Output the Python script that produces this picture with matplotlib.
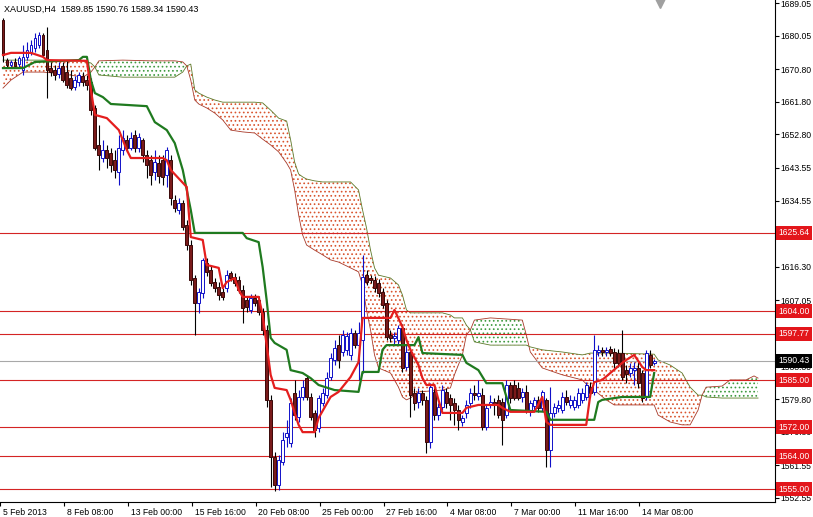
import matplotlib
matplotlib.use("Agg")
import matplotlib.pyplot as plt
import matplotlib.transforms as mtrans
import numpy as np

#-------------------------------------------------------------------------------
# XAUUSD H4 candles, one entry per bar (bar index = position on the chart)

opens = [
  1684.4,1673.3,1672.0,1672.8,1672.2,1670.6,1674.2,1675.5,1676.6,1677.5,
  1680.2,1676.1,1671.1,1670.6,1669.5,1671.7,1670.0,1668.4,1665.9,1667.3,
  1668.9,1667.8,1667.3,1660.1,1649.9,1646.3,1648.5,1647.7,1645.7,1642.4,
  1648.5,1651.3,1649.1,1652.6,1649.1,1651.3,1647.1,1645.7,1642.4,1644.9,
  1645.7,1641.6,1645.7,1634.7,1632.0,1633.9,1627.8,1622.3,1613.2,1606.3,
  1609.1,1617.3,1615.4,1612.1,1610.7,1609.3,1610.4,1614.6,1613.5,1612.7,
  1609.9,1607.1,1604.4,1607.7,1607.1,1603.8,1598.9,1579.6,1563.8,1556.1,
  1562.5,1569.4,1567.7,1581.5,1574.9,1580.4,1585.6,1580.4,1576.0,1571.8,
  1578.7,1580.9,1585.9,1590.6,1594.7,1592.8,1593.4,1592.0,1598.0,1594.7,
  1596.1,1614.0,1613.2,1612.7,1611.8,1609.3,1606.3,1597.5,1596.7,1596.1,
  1599.4,1588.7,1592.8,1581.5,1579.0,1581.5,1579.6,1568.0,1581.8,1575.4,
  1577.6,1581.8,1580.1,1578.7,1576.8,1573.5,1576.0,1578.7,1581.5,1580.7,
  1580.9,1572.1,1578.2,1579.0,1579.6,1579.0,1575.4,1583.7,1583.7,1582.9,
  1580.4,1581.8,1576.3,1577.9,1579.6,1577.4,1579.6,1565.8,1576.0,1577.4,
  1576.8,1580.4,1578.2,1577.6,1578.2,1579.6,1580.4,1583.1,1581.8,1592.8,
  1593.4,1592.8,1593.6,1592.8,1592.5,1592.5,1587.8,1587.0,1587.8,1588.4,
  1587.0,1580.4,1592.0,1589.85]
highs = [
  1684.9,1673.9,1673.3,1673.9,1674.4,1677.5,1678.3,1678.8,1680.8,1681.1,
  1680.8,1682.4,1672.8,1672.0,1672.8,1672.8,1673.3,1670.6,1668.9,1670.0,
  1670.0,1669.2,1668.4,1660.9,1655.4,1651.3,1649.9,1649.1,1648.5,1652.6,
  1654.0,1652.6,1653.5,1654.0,1653.2,1651.8,1648.5,1647.1,1648.5,1647.1,
  1647.1,1649.3,1647.1,1636.1,1635.3,1634.7,1629.2,1623.7,1614.0,1610.4,
  1618.7,1618.7,1616.5,1613.2,1612.1,1610.4,1615.4,1615.1,1614.6,1613.8,
  1611.3,1608.0,1608.8,1608.8,1608.2,1604.9,1600.2,1580.9,1565.2,1564.4,
  1570.7,1574.1,1580.1,1585.1,1582.3,1585.1,1586.5,1581.5,1576.8,1580.9,
  1582.9,1587.3,1592.5,1596.1,1597.5,1598.9,1598.3,1599.4,1598.9,1601.1,
  1619.5,1615.4,1614.0,1613.8,1612.9,1610.4,1607.1,1598.9,1598.3,1600.2,
  1600.5,1594.7,1593.9,1582.9,1582.9,1582.3,1580.7,1584.2,1582.9,1578.7,
  1583.7,1582.9,1581.2,1580.1,1578.2,1575.4,1579.6,1582.9,1583.7,1585.1,
  1582.9,1578.5,1580.9,1580.1,1580.9,1580.1,1585.1,1584.5,1585.1,1584.5,
  1582.9,1583.7,1579.6,1580.4,1580.7,1582.3,1580.1,1583.1,1578.7,1579.6,
  1581.8,1582.3,1580.9,1580.7,1582.9,1582.9,1584.5,1584.5,1597.5,1594.7,
  1594.2,1594.2,1594.5,1593.9,1593.6,1598.9,1589.2,1589.8,1590.0,1590.0,
  1587.8,1593.4,1593.4,1590.76]
lows = [
  1672.8,1671.1,1671.1,1671.1,1671.4,1669.2,1673.3,1674.7,1675.5,1676.6,
  1674.2,1662.9,1668.9,1667.8,1668.4,1667.3,1665.6,1665.1,1665.1,1666.2,
  1666.2,1665.1,1658.2,1648.5,1643.0,1645.2,1643.6,1642.4,1640.8,1638.9,
  1647.1,1648.0,1648.5,1648.0,1648.0,1645.2,1640.8,1638.9,1640.2,1639.4,
  1638.9,1638.3,1633.3,1631.4,1630.9,1626.4,1620.9,1611.3,1597.5,1603.6,
  1607.7,1613.8,1611.0,1609.3,1607.1,1607.1,1609.3,1612.4,1611.0,1609.1,
  1600.8,1603.8,1603.6,1605.5,1603.0,1597.5,1577.6,1555.6,1554.5,1554.7,
  1561.6,1566.6,1566.6,1574.1,1573.5,1579.6,1579.6,1574.1,1569.4,1570.7,
  1577.9,1580.1,1585.1,1589.2,1588.4,1591.7,1592.0,1590.6,1593.9,1585.1,
  1587.0,1611.3,1611.8,1609.3,1608.0,1604.9,1596.1,1595.6,1594.7,1595.0,
  1587.3,1587.8,1574.9,1576.8,1577.4,1578.2,1564.9,1566.3,1574.1,1574.1,
  1576.8,1577.4,1574.1,1572.7,1571.3,1572.4,1574.6,1577.4,1579.6,1579.6,
  1571.3,1571.3,1577.4,1575.4,1574.6,1567.1,1574.6,1578.7,1579.6,1579.6,
  1579.0,1576.0,1575.2,1576.8,1576.3,1576.5,1561.1,1561.1,1574.9,1576.3,
  1576.0,1578.2,1577.4,1576.8,1577.4,1578.7,1579.6,1580.4,1580.9,1591.7,
  1591.7,1591.7,1591.7,1588.4,1588.7,1585.1,1584.2,1585.9,1583.7,1582.9,
  1579.0,1579.6,1588.4,1589.34]
closes = [
  1674.7,1672.0,1672.8,1671.7,1673.9,1674.2,1676.1,1677.5,1679.4,1680.2,
  1674.7,1670.6,1670.0,1669.2,1671.1,1667.8,1666.4,1665.6,1667.8,1669.2,
  1667.3,1666.4,1659.5,1649.1,1647.1,1648.5,1646.3,1644.4,1643.0,1649.1,
  1651.8,1649.1,1651.8,1649.1,1652.1,1647.1,1644.4,1641.6,1645.2,1641.3,
  1641.1,1648.5,1635.3,1632.5,1633.9,1627.3,1622.3,1612.7,1606.3,1609.3,
  1618.2,1614.9,1611.8,1610.4,1608.5,1608.0,1614.0,1613.2,1611.8,1609.9,
  1604.9,1605.2,1607.7,1606.3,1603.8,1598.9,1579.6,1563.8,1556.1,1563.0,
  1568.5,1570.5,1578.7,1575.4,1580.4,1583.1,1580.4,1574.9,1571.3,1580.1,
  1581.5,1585.6,1591.1,1593.9,1590.6,1597.5,1597.2,1598.0,1594.7,1598.0,
  1613.5,1612.1,1612.7,1610.4,1609.1,1605.8,1596.9,1596.7,1597.2,1599.4,
  1588.4,1592.8,1580.9,1578.7,1581.5,1579.6,1568.0,1583.1,1575.4,1577.6,
  1582.3,1578.7,1578.2,1576.8,1574.1,1574.6,1578.2,1581.5,1580.9,1581.5,
  1572.1,1577.4,1579.0,1578.2,1575.4,1574.1,1583.7,1580.1,1580.1,1580.1,
  1581.8,1576.8,1578.7,1579.6,1577.4,1581.8,1565.8,1576.0,1577.6,1578.2,
  1580.4,1579.0,1579.6,1579.6,1581.5,1581.5,1583.7,1581.5,1593.4,1593.4,
  1592.8,1593.4,1592.5,1589.8,1589.8,1585.9,1586.7,1588.4,1588.4,1584.2,
  1580.1,1592.5,1589.2,1590.43]

# Ichimoku lines at their corners (bar index, price)
tenkan_idx = [0,2,7,10,11,21,22,23,26,29, 31,32,40,41,42,46,47,50,51,54,
              55,56,58,59,60,64,65,66,67,68, 71,72,73,74,75,78,79,82,84,87,
              89,90,97,98,100,101,102,104,105,106, 108,109,110,115,116,119,124,125,127,133,
              135,136,137,146,147,148,150,155,156,158, 160,161,163]
tenkan = [1674.7,1675.3,1675.3,1674.2,1673.3,1673.1,1665.1,1658.2,1657.3,1654.0,
          1648.5,1646.3,1646.3,1645.7,1643.0,1638.3,1624.5,1623.7,1616.8,1616.0,
          1610.4,1612.1,1613.2,1609.9,1608.0,1608.0,1603.0,1594.7,1586.5,1582.9,
          1582.3,1579.6,1576.0,1572.7,1570.7,1570.7,1574.6,1580.4,1581.8,1585.9,
          1590.0,1602.2,1602.2,1604.4,1599.7,1596.1,1593.4,1589.2,1585.6,1583.7,
          1583.7,1579.6,1576.0,1576.0,1577.4,1578.2,1578.2,1577.4,1576.3,1576.3,
          1580.4,1573.5,1572.7,1572.7,1580.9,1584.5,1585.1,1589.8,1590.6,1592.0,
          1588.7,1587.8,1587.8]

kijun_idx = [0,5,8,19,20,21,22,23,25,27, 36,38,41,43,45,47,48,60,61,64,
             65,66,67,68,71,72,75,77,79,83, 89,90,94,95,96,103,104,105,115,116,
             119,121,125,127,136,137,148,149,150,155, 162,163]
kijun = [1671.1,1671.1,1672.8,1673.3,1674.2,1674.2,1667.8,1664.2,1663.1,1661.2,
         1660.6,1656.2,1654.0,1650.4,1643.0,1632.0,1625.64,1625.64,1624.2,1623.1,
         1616.2,1607.1,1596.7,1595.3,1593.4,1587.8,1587.0,1585.6,1583.7,1582.3,
         1581.8,1587.3,1587.3,1593.4,1594.7,1594.7,1596.9,1592.5,1592.0,1589.8,
         1587.8,1584.2,1584.2,1576.8,1576.3,1574.1,1574.1,1579.0,1579.6,1580.4,
         1580.4,1587.0]

span_idx = [0,2,5,10,15,20,22,23,24,30, 37,43,45,46,47,48,49,51,53,55,
            57,60,63,65,67,69,71,72,73,74, 75,76,78,80,82,84,87,89,90,91,
            92,93,94,97,99,100,101,102,104,110, 112,113,115,116,117,118,122,130,131,132,
            135,140,145,147,148,151,153,163,164,167, 170,172,174,175,176,180,182,186,188,189]
span_a = [1665.6,1667.8,1670.0,1670.0,1669.5,1668.6,1670.0,1671.4,1673.1,1673.3,
          1673.1,1673.1,1672.8,1671.7,1667.8,1662.3,1661.2,1660.1,1658.7,1656.8,
          1654.0,1653.5,1653.2,1651.5,1649.9,1648.0,1644.9,1643.0,1637.5,1630.6,
          1625.1,1622.3,1620.9,1619.6,1618.2,1617.6,1616.0,1614.9,1611.3,1604.4,
          1598.9,1592.0,1588.4,1587.0,1583.1,1580.4,1579.6,1580.1,1581.8,1582.3,
          1582.9,1586.5,1592.0,1597.5,1598.9,1601.6,1602.2,1601.6,1597.5,1592.8,
          1588.4,1586.5,1585.1,1582.9,1582.3,1579.6,1578.2,1578.2,1575.4,1573.5,
          1572.7,1572.7,1576.8,1580.9,1583.1,1583.4,1585.1,1585.1,1586.2,1585.6]
span_b = [1673.3,1673.3,1673.3,1673.3,1673.1,1673.1,1672.5,1671.4,1669.2,1668.6,
          1668.6,1668.6,1670.0,1671.7,1672.2,1665.1,1664.2,1663.1,1662.3,1661.7,
          1661.7,1661.7,1661.7,1661.5,1659.5,1657.3,1656.5,1651.3,1645.2,1641.9,
          1641.1,1640.5,1640.0,1639.7,1639.7,1639.7,1639.7,1637.5,1632.0,1627.0,
          1620.9,1616.0,1614.0,1613.2,1611.3,1608.5,1604.4,1603.6,1603.6,1603.6,
          1603.0,1602.2,1602.2,1600.2,1598.9,1595.6,1594.7,1594.7,1594.7,1594.2,
          1593.4,1592.8,1592.0,1592.5,1592.5,1592.5,1592.5,1592.2,1590.6,1589.2,
          1587.0,1583.1,1580.9,1580.9,1580.4,1580.1,1580.1,1580.1,1580.1,1580.1]

level_lines = [1625.64, 1604.00, 1597.77, 1585.00, 1572.00, 1564.00, 1555.00]
bid_price = 1590.43
price_ticks = [1689.05, 1680.05, 1670.80, 1661.80, 1652.80, 1643.55, 1634.55, 1625.30,
               1616.30, 1607.05, 1598.05, 1588.80, 1579.80, 1570.80, 1561.55, 1552.55]
# grid prices whose label sits fully under a level box
hidden_ticks = [1625.30, 1598.05]
date_ticks = [0, 16, 32, 48, 64, 80, 96, 112, 128, 144, 160]
date_labels = ["5 Feb 2013", "8 Feb 08:00", "13 Feb 00:00", "15 Feb 16:00", "20 Feb 08:00",
               "25 Feb 00:00", "27 Feb 16:00", "4 Mar 08:00", "7 Mar 00:00",
               "11 Mar 16:00", "14 Mar 08:00"]
title = "XAUUSD,H4  1589.85 1590.76 1589.34 1590.43"

BULL = "#1010c8"
BEAR = "#7a1a1a"
TENKAN = "#e41e1e"
KIJUN = "#1f7a1f"
RED_DOTS = "#d9552f"
GREEN_DOTS = "#3f9a3f"
SPAN_A = "#a83a2a"
SPAN_B = "#5d7a2a"
LEVEL = "#d42424"
FS = 6.2

#-------------------------------------------------------------------------------

def draw_cloud(ax):
  """ Senkou span A / B with the dotted kumo in between.
  """
  x = np.array(span_idx)
  a = np.array(span_a)
  b = np.array(span_b)
  plt.rcParams["hatch.linewidth"] = 0.7
  for mask, color in ((a >= b, GREEN_DOTS), (b >= a, RED_DOTS)):
    plt.rcParams["hatch.color"] = color
    ax.fill_between(x, a, b, where=mask, interpolate=True, facecolor="none",
                    edgecolor=color, hatch="....", linewidth=0, zorder=1)
  ax.plot(x, a, color=SPAN_A, lw=0.6, zorder=1.5)
  ax.plot(x, b, color=SPAN_B, lw=0.6, zorder=1.5)

def draw_candles(ax):
  """ Hollow blue bull candles, filled dark red bear candles.
  """
  o, h, l, c = (np.array(v) for v in (opens, highs, lows, closes))
  idx = np.arange(len(c))
  up = c >= o
  ax.vlines(idx[up], l[up], h[up], color=BULL, lw=0.8, zorder=3)
  ax.vlines(idx[~up], l[~up], h[~up], color="black", lw=0.8, zorder=3)
  ax.bar(idx[up], c[up] - o[up], bottom=o[up], width=0.72, facecolor="white",
         edgecolor=BULL, lw=0.7, zorder=4)
  ax.bar(idx[~up], c[~up] - o[~up], bottom=o[~up], width=0.72, facecolor=BEAR,
         edgecolor="#3a0808", lw=0.7, zorder=4)

def price_box(ax, price, color):
  ax.text(1.004, price, "%.2f" % price, transform=ax.get_yaxis_transform(),
          ha="left", va="center", color="white", fontsize=FS, zorder=10, clip_on=False,
          bbox=dict(boxstyle="square,pad=0.3", fc=color, ec="none"))

def draw_levels(ax):
  """ Horizontal support / resistance lines with their price boxes.
  """
  for lvl in level_lines:
    ax.axhline(lvl, color=LEVEL, lw=0.8, zorder=2)
    price_box(ax, lvl, "#e3161b")
  ax.axhline(bid_price, color="#a8a8a8", lw=0.8, zorder=2)
  price_box(ax, bid_price, "black")

def main():
  plt.rcParams["font.family"] = ["Liberation Sans", "DejaVu Sans"]
  fig = plt.figure(figsize=(8.13, 5.17), dpi=100)
  ax = fig.add_axes([0, 15/517, 775/813, 502/517])

  draw_cloud(ax)
  draw_levels(ax)
  draw_candles(ax)
  ax.plot(kijun_idx, kijun, color=KIJUN, lw=1.6, zorder=5)
  ax.plot(tenkan_idx, tenkan, color=TENKAN, lw=1.6, zorder=6)

  ax.set_xlim(-0.5, 193.25)
  ax.set_ylim(1551.43, 1689.88)

  ax.yaxis.tick_right()
  ax.set_yticks(price_ticks)
  ax.set_yticklabels(["" if p in hidden_ticks else "%.2f" % p for p in price_ticks])
  ax.tick_params(axis="y", direction="out", length=3, width=0.8, pad=1, labelsize=FS)
  ax.set_xticks(np.array(date_ticks) - 0.75)
  ax.set_xticklabels(date_labels, ha="left")
  ax.tick_params(axis="x", direction="out", length=3, width=0.8, pad=1.5, labelsize=FS)
  shift = mtrans.ScaledTranslation(2/72, 0, fig.dpi_scale_trans)
  for lab in ax.get_xticklabels():
    lab.set_transform(lab.get_transform() + shift)

  for side in ["left", "top"]:
    ax.spines[side].set_visible(False)
  for side in ["right", "bottom"]:
    ax.spines[side].set_linewidth(0.8)

  # chart shift marker at the top
  ax.plot([164.5], [0.995], marker="v", ms=7, color="#a0a0a0",
          transform=ax.get_xaxis_transform(), clip_on=False, zorder=7)
  fig.text(4/813, 1 - 9/517, title, ha="left", va="center", fontsize=6.5)

  fig.savefig("out.png", dpi=100)
  plt.close(fig)

if __name__ == "__main__":
  main()
